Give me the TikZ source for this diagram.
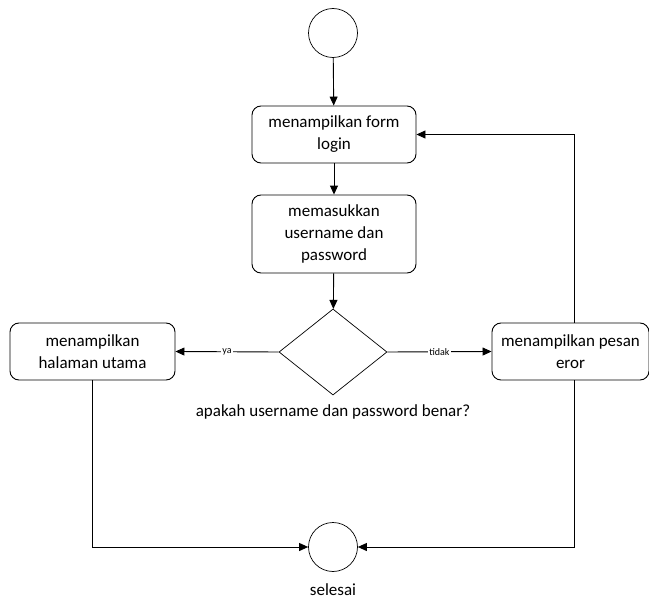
\documentclass[tikz,border=0pt]{standalone}
\usepackage{fontspec}
\setmainfont{Carlito}
\usetikzlibrary{arrows.meta,shapes.geometric}

\begin{document}
\begin{tikzpicture}[x=1pt,y=-1pt,line width=0.9pt,
  langkah/.style={draw,rounded corners=9pt,align=center,inner sep=2pt,
    font=\fontsize{17}{22}\selectfont},
  titik/.style={draw,circle,minimum size=49pt,inner sep=0pt,line width=0.7pt},
  panah/.style={-{Triangle[length=9pt,width=8pt]}},
  ket/.style={fill=white,inner sep=1pt,font=\fontsize{10}{11}\selectfont}]
\useasboundingbox (0,0) rectangle (649,602);

\node[titik] (mulai) at (333,33) {};
\node[langkah,minimum width=164pt,minimum height=57pt] (form) at (334,134.5) {menampilkan form\\login};
\node[langkah,minimum width=164pt,minimum height=78pt] (masuk) at (334,234) {memasukkan\\username dan\\password};
\node[draw,diamond,minimum width=108pt,minimum height=86pt,inner sep=0pt,line width=0.7pt] (cek) at (333,352) {};
\node[font=\fontsize{17}{22}\selectfont] (tanya) at (333,412) {apakah username dan password benar?};
\node[langkah,minimum width=165pt,minimum height=57pt] (utama) at (92.5,351.5) {menampilkan\\halaman utama};
\node[langkah,minimum width=157pt,minimum height=57pt] (pesan) at (570.5,351.5) {menampilkan pesan\\eror};
\node[titik] (selesai) at (333,547) {};
\node[font=\fontsize{17}{22}\selectfont] (teks) at (333,590) {selesai};
\coordinate (sudut) at (574,133);

\draw[panah] (mulai) -- (form);
\draw[panah] (form) -- (masuk);
\draw[panah] (masuk) -- (cek);
\draw[panah] (cek.west) -- node[ket] {ya} (utama.east);
\draw[panah] (cek.east) -- node[ket] {tidak} (pesan.west);
\draw[panah] (pesan.north -| sudut) |- (form.east);
\draw[panah] (utama.south) |- (selesai.west);
\draw[panah] (pesan.south -| sudut) |- (selesai.east);
\end{tikzpicture}
\end{document}
